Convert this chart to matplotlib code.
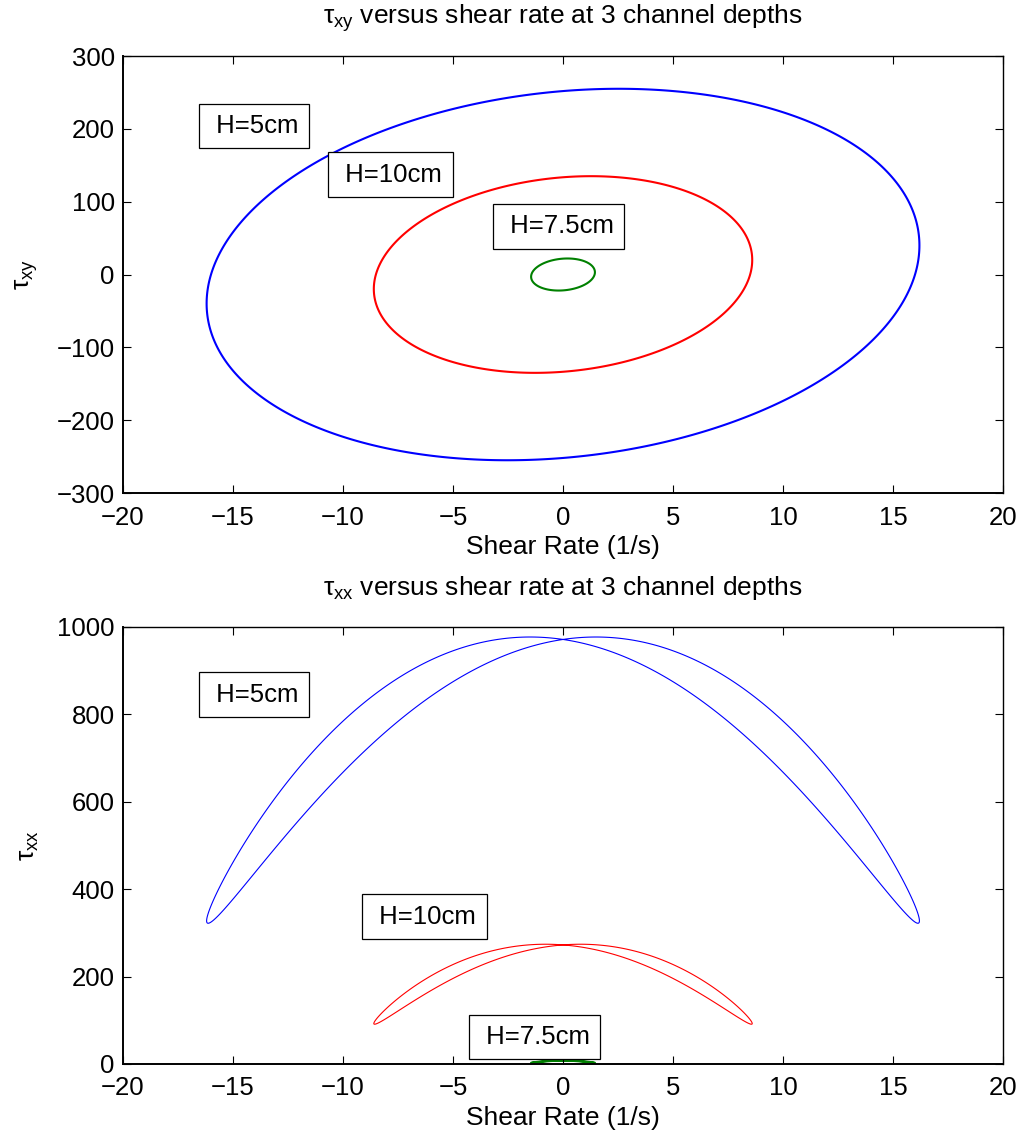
import numpy as np
import matplotlib
matplotlib.use("Agg")
import matplotlib.pyplot as plt
from matplotlib.ticker import FuncFormatter

plt.rcParams['font.family'] = ['Liberation Sans', 'DejaVu Sans']
plt.rcParams['mathtext.fontset'] = 'custom'
plt.rcParams['mathtext.rm'] = 'Liberation Sans'
plt.rcParams['mathtext.it'] = 'Liberation Sans'
plt.rcParams['mathtext.bf'] = 'Liberation Sans'

# channel depths, in plotting order
depth_labels = ["H=5cm", "H=10cm", "H=7.5cm"]
colors = ["#0000ff", "#ff0000", "#008000"]

# oscillation amplitudes of shear rate (1/s)
rate_amp = [16.2, 8.6, 1.45]

# shear stress: amplitude and phase lead (deg) relative to shear rate
txy_amp = [255.0, 135.0, 22.0]
txy_phase_deg = [81.0, 81.5, 82.0]

# normal stress: mean, second-harmonic amplitude, second-harmonic phase (deg)
txx_mean = [649.5, 182.5, 5.2]
txx_amp = [327.5, 91.5, 2.6]
txx_phase_deg = [10.6, 10.6, 10.6]

# label positions (data coordinates)
txy_label_pos = [(-14.05, 204), (-7.85, 137), (-0.2, 66)]
txx_label_pos = [(-14.05, 845), (-6.3, 337), (-1.3, 62)]

# one full oscillation cycle, closed by the polygon
t = np.linspace(0, 2 * np.pi, 720, endpoint=False)

fig = plt.figure(figsize=(10.26, 11.36), dpi=100)
ax1 = fig.add_axes([0.1199, 0.566, 0.8577, 0.3847])
ax2 = fig.add_axes([0.1199, 0.0634, 0.8577, 0.3847])

for i in range(3):
    rate = rate_amp[i] * np.sin(t)
    txy = txy_amp[i] * np.sin(t + np.radians(txy_phase_deg[i]))
    txx = txx_mean[i] + txx_amp[i] * np.cos(2 * t + np.radians(txx_phase_deg[i]))
    ax1.fill(rate, txy, fill=False, edgecolor=colors[i], lw=1.5)
    lw2 = 1.5 if i == 2 else 0.8
    ax2.fill(rate, txx, fill=False, edgecolor=colors[i], lw=lw2)

box = dict(boxstyle='square,pad=0.4', fc='white', ec='black', lw=0.9)
for lab, (x, y) in zip(depth_labels, txy_label_pos):
    ax1.text(x, y, ' ' + lab, ha='center', va='center', fontsize=18.5, bbox=box, zorder=5)
for lab, (x, y) in zip(depth_labels, txx_label_pos):
    ax2.text(x, y, ' ' + lab, ha='center', va='center', fontsize=18.5, bbox=box, zorder=5)

ax1.set_xlim(-20, 20)
ax1.set_ylim(-300, 300)
ax1.set_xticks(np.arange(-20, 21, 5))
ax1.set_yticks(np.arange(-300, 301, 100))
ax1.set_title(r'$\tau_{xy}$ versus shear rate at 3 channel depths', fontsize=19, pad=23)
ax1.set_ylabel(r'$\tau_{xy}$', fontsize=19, labelpad=12)
ax1.set_xlabel('Shear Rate (1/s)', fontsize=19, labelpad=4)

ax2.set_xlim(-20, 20)
ax2.set_ylim(0, 1000)
ax2.set_xticks(np.arange(-20, 21, 5))
ax2.set_yticks(np.arange(0, 1001, 200))
ax2.set_title(r'$\tau_{xx}$ versus shear rate at 3 channel depths', fontsize=19, pad=23)
ax2.set_ylabel(r'$\tau_{xx}$', fontsize=19, labelpad=12)
ax2.set_xlabel('Shear Rate (1/s)', fontsize=19, labelpad=4)

minus = FuncFormatter(lambda v, p: f"{v:.0f}".replace('-', '\u2212'))
for ax in (ax1, ax2):
    ax.tick_params(direction='in', length=5.5, width=0.8, top=True, right=True,
                   labelsize=18.5)
    ax.tick_params(axis='x', pad=9)
    ax.tick_params(axis='y', pad=6)
    for side in ('left', 'bottom'):
        ax.spines[side].set_linewidth(1.4)
    for side in ('top', 'right'):
        ax.spines[side].set_linewidth(1.0)
    ax.xaxis.set_major_formatter(minus)
    ax.yaxis.set_major_formatter(minus)

fig.savefig("out.png", dpi=100, facecolor='white')
